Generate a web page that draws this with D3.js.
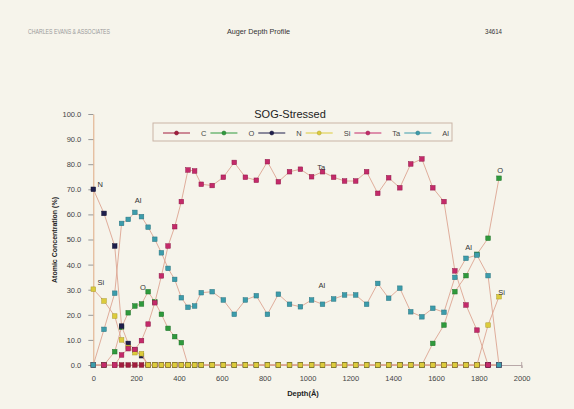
<!DOCTYPE html>
<html><head><meta charset="utf-8">
<script src="https://cdn.jsdelivr.net/npm/d3@7"></script>
<style>
html,body{margin:0;padding:0;background:#f6f4eb;}
svg{display:block;font-family:"Liberation Sans",Arial,sans-serif;}
</style>
</head><body>
<svg id="chart" width="574" height="409"></svg>
<script>
// ---- data ----
const depth = [0,50,100,132,163,194,225,256,287,318,349,380,411,442,473,504,555,607,658,710,761,813,864,916,967,1019,1070,1122,1173,1225,1276,1328,1379,1431,1482,1534,1585,1637,1688,1740,1791,1843,1894];
const seriesNames = ["C","O","N","Si","Ta","Al"];
const C  = [0,0,0,0,0,0,0,0,0,0,0,0,0,0,0,0,0,0,0,0,0,0,0,0,0,0,0,0,0,0,0,0,0,0,0,0,0,0,0,0,0,0,0];
const O  = [0,0,5.3,15,20.8,23.5,24.3,29.2,25.2,20.2,14.6,11.3,8.9,0,0,0,0,0,0,0,0,0,0,0,0,0,0,0,0,0,0,0,0,0,0,0,8.6,15.9,29.2,35.6,44.1,50.5,74.4];
const N  = [70,60.4,47.4,15.5,8.6,6,3.7,0,0,0,0,0,0,0,0,0,0,0,0,0,0,0,0,0,0,0,0,0,0,0,0,0,0,0,0,0,0,0,0,0,0,0,0];
const Si = [30.2,25.5,19.5,10,7,4.9,4.5,0,0,0,0,0,0,0,0,0,0,0,0,0,0,0,0,0,0,0,0,0,0,0,0,0,0,0,0,0,0,0,0,0,0,15.9,27.2];
const Ta = [0,0,0,4,6.5,6.2,9.7,16.3,24.8,35.5,47.4,55.1,65.1,77.7,77.3,72,71.5,74.8,80.7,74.8,73.6,81,73,77,78,75,77,74.8,73.3,73.3,77,68.4,74.6,70.6,80.1,82.1,70.6,65.1,37.5,23.9,13.9,0,0];
const Al = [0,14.2,28.6,56.4,58,60.8,59.1,54.9,50.1,44.7,38.5,34.1,26.8,23,23.5,28.8,29.2,25.9,20.2,25.9,27.6,20.2,28.2,24.2,23.2,25.9,24.2,26.3,27.9,27.9,24.2,32.5,26.6,30.6,21.2,19.2,22.6,21,34.9,42.5,43.8,35.6,0];
const yTicks = [0,10,20,30,40,50,60,70,80,90,100];
const xTicks = [0,200,400,600,800,1000,1200,1400,1600,1800,2000];
const annotations = [
  {t:"N", d:20, v:71}, {t:"Al", d:193, v:64.5}, {t:"Si", d:20, v:32}, {t:"O", d:218, v:29.8},
  {t:"Ta", d:1046, v:77.7}, {t:"Al", d:1051, v:30.7}, {t:"Al", d:1737, v:45.7}, {t:"O", d:1886, v:76.5}, {t:"Si", d:1890, v:27.9}
];

const colors = {C:"#a21d3e", O:"#2f9a3c", N:"#1e1e4c", Si:"#dccb3c", Ta:"#c42a6a", Al:"#3c9cab"};
const strokes = {C:"#7a1028", O:"#1f7028", N:"#101030", Si:"#a89a28", Ta:"#901848", Al:"#2a7480"};
const seriesData = {C, O, N, Si, Ta, Al};

const svg = d3.select("#chart");
svg.append("rect").attr("width",574).attr("height",409).attr("fill","#f6f4eb");

const x = d3.scaleLinear().domain([0,2000]).range([93.3,521.7]);
const y = d3.scaleLinear().domain([0,100]).range([365,114]);

// header
svg.append("text").attr("x",28).attr("y",34).attr("font-size",7).attr("fill","#9a9a9a")
  .attr("font-family","'Liberation Sans Narrow','Liberation Sans',sans-serif")
  .attr("textLength",82).attr("lengthAdjust","spacingAndGlyphs").text("CHARLES EVANS & ASSOCIATES");
svg.append("text").attr("x",227).attr("y",34).attr("font-size",7.5).attr("fill","#333")
  .attr("textLength",63).attr("lengthAdjust","spacingAndGlyphs").text("Auger Depth Profile");
svg.append("text").attr("x",485).attr("y",34).attr("font-size",7.5).attr("fill","#333")
  .attr("textLength",17).attr("lengthAdjust","spacingAndGlyphs").text("34614");

// axes
const yAxis = svg.append("g").attr("transform",`translate(${x(0)},0)`)
  .call(d3.axisLeft(y).tickValues(yTicks).tickFormat(d3.format(".1f")).tickSize(5).tickPadding(7).tickSizeOuter(0));
yAxis.select(".domain").attr("stroke","#e0aa84");
yAxis.selectAll(".tick line").attr("stroke","#999");
yAxis.selectAll("text").attr("font-size",7.5).attr("fill","#444");

const xAxis = svg.append("g").attr("transform",`translate(0,${y(0)})`)
  .call(d3.axisBottom(x).tickValues(xTicks).tickFormat(d3.format("d")).tickSize(0).tickPadding(11).tickSizeOuter(3));
xAxis.select(".domain").attr("stroke","#b8a8a8");
xAxis.selectAll("text").attr("font-size",7.5).attr("fill","#444");
svg.append("line").attr("x1",x(2000)).attr("x2",x(2000)).attr("y1",y(0)-3).attr("y2",y(0)+3).attr("stroke","#b8a8a8");

svg.append("text").attr("x",303).attr("y",396).attr("text-anchor","middle").attr("font-size",7.5)
  .attr("font-weight","bold").attr("fill","#222").text("Depth(Å)");
svg.append("text").attr("transform","translate(57,240) rotate(-90)").attr("text-anchor","middle")
  .attr("font-size",7).attr("font-weight","bold").attr("fill","#222").text("Atomic Concentration (%)");

// title and legend
svg.append("text").attr("x",290).attr("y",118).attr("text-anchor","middle").attr("font-size",11)
  .attr("fill","#222").text("SOG-Stressed");
svg.append("rect").attr("x",153).attr("y",123).attr("width",299).attr("height",18)
  .attr("fill","none").attr("stroke","#c9b4a6");
const leg = svg.append("g");
let lx = 163;
seriesNames.forEach(name=>{
  const g = leg.append("g").attr("transform",`translate(${lx},133)`);
  g.append("line").attr("x1",0).attr("x2",27).attr("stroke",colors[name]).attr("stroke-width",1);
  g.append("circle").attr("cx",13.5).attr("r",2).attr("fill",colors[name]).attr("stroke",strokes[name]).attr("stroke-width",0.5);
  const t = g.append("text").attr("x",38).attr("y",3).attr("font-size",7.5).attr("fill","#444").text(name);
  lx += 38 + t.node().getComputedTextLength() + 4;
});

// series
const line = d3.line().x(d=>x(d.d)).y(d=>y(d.v));
const plot = svg.append("g");
seriesNames.forEach(name=>{
  const pts = depth.map((d,i)=>({d, v:seriesData[name][i]}));
  const g = plot.append("g");
  g.append("path").attr("d",line(pts)).attr("fill","none").attr("stroke","#dca592").attr("stroke-width",0.9);
  g.selectAll("rect").data(pts).join("rect")
    .attr("x",p=>x(p.d)-2.3).attr("y",p=>y(p.v)-2.3).attr("width",4.6).attr("height",4.6)
    .attr("fill",colors[name]).attr("stroke",strokes[name]).attr("stroke-width",0.5);
});

// annotations
svg.append("g").selectAll("text").data(annotations).join("text")
  .attr("x",a=>x(a.d)).attr("y",a=>y(a.v)).attr("font-size",7.5).attr("fill","#333").text(a=>a.t);
</script>
</body></html>
